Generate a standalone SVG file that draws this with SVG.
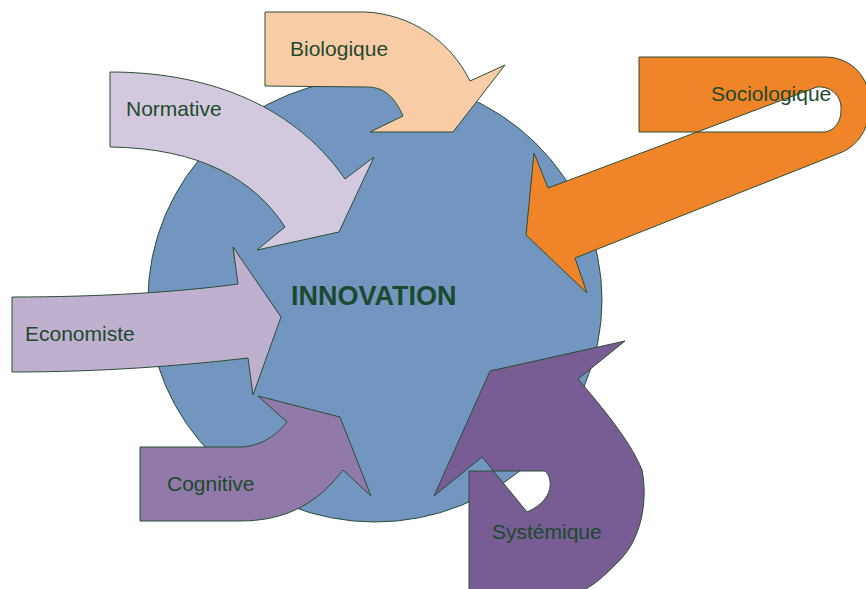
<svg xmlns="http://www.w3.org/2000/svg" width="866" height="589" viewBox="0 0 866 589">
<style>
.s{stroke:#2b4d36;stroke-width:1;stroke-linejoin:miter}
.t{font-family:"Liberation Sans",Arial,sans-serif;font-size:21px;fill:#1d4a2c}
</style>
<rect width="866" height="589" fill="#ffffff"/>
<g id="innovation">
<ellipse class="s" cx="375" cy="300" rx="227" ry="222" fill="#7296bf"/>
<text x="291" y="305" style="font-family:'Liberation Sans',Arial,sans-serif;font-size:27px;font-weight:bold;fill:#1b4a30">INNOVATION</text>
</g>
<g id="connectors">
<g id="biologique">
<path class="s" fill="#f9cca8" d="M265,12 L365,12 C410,14 450,40 470,81 L505,65 L453,132 L370,132 L403,116 C395,98 385,87 367,87 L265,86 Z"/>
<text class="t" x="290" y="56">Biologique</text>
</g>
<g id="normative">
<path class="s" fill="#d3c9de" d="M110,72 C200,72 290,100 345,179 L374,157 L339,232 L257,250 L285,227 C255,180 200,148 110,147 Z"/>
<text class="t" x="126" y="116">Normative</text>
</g>
<g id="sociologique">
<path class="s" fill="#f08428" fill-rule="evenodd" d="M639,57 L825,57 C852,57 870,78 870,104 C870,128 858,146 840,153 L575,258 L587,293 L526,235 L534,153 L548,188 L817,87 C832,86 842,97 841,110 C841,122 835,130 825,132 L639,132 Z"/>
<text class="t" x="711" y="101">Sociologique</text>
</g>
<g id="economiste">
<path class="s" fill="#bfb0d0" d="M12,297 C100,297 180,292 238,284 L233,247 L281,317 L253,395 L248,358 C180,366 100,372 12,372 Z"/>
<text class="t" x="25" y="341">Economiste</text>
</g>
<g id="cognitive">
<path class="s" fill="#9179aa" d="M140,447 L240,447 C258,447 275,437 287,422 L258,396 L340,417 L371,496 L343,470 C320,500 290,521 240,521 L140,521 Z"/>
<text class="t" x="167" y="491">Cognitive</text>
</g>
<g id="systemique">
<path class="s" fill="#775d94" fill-rule="evenodd" d="M469,592 L469,471 L545,471 C553,478 555,500 527,512 L482,457 L434,496 L490,371 L625,341 L578,379 C600,405 630,440 642,470 C648,500 642,540 617,563 C605,575 595,585 580,592 Z"/>
<text class="t" x="492" y="539">Systémique</text>
</g>
</g>
</svg>
